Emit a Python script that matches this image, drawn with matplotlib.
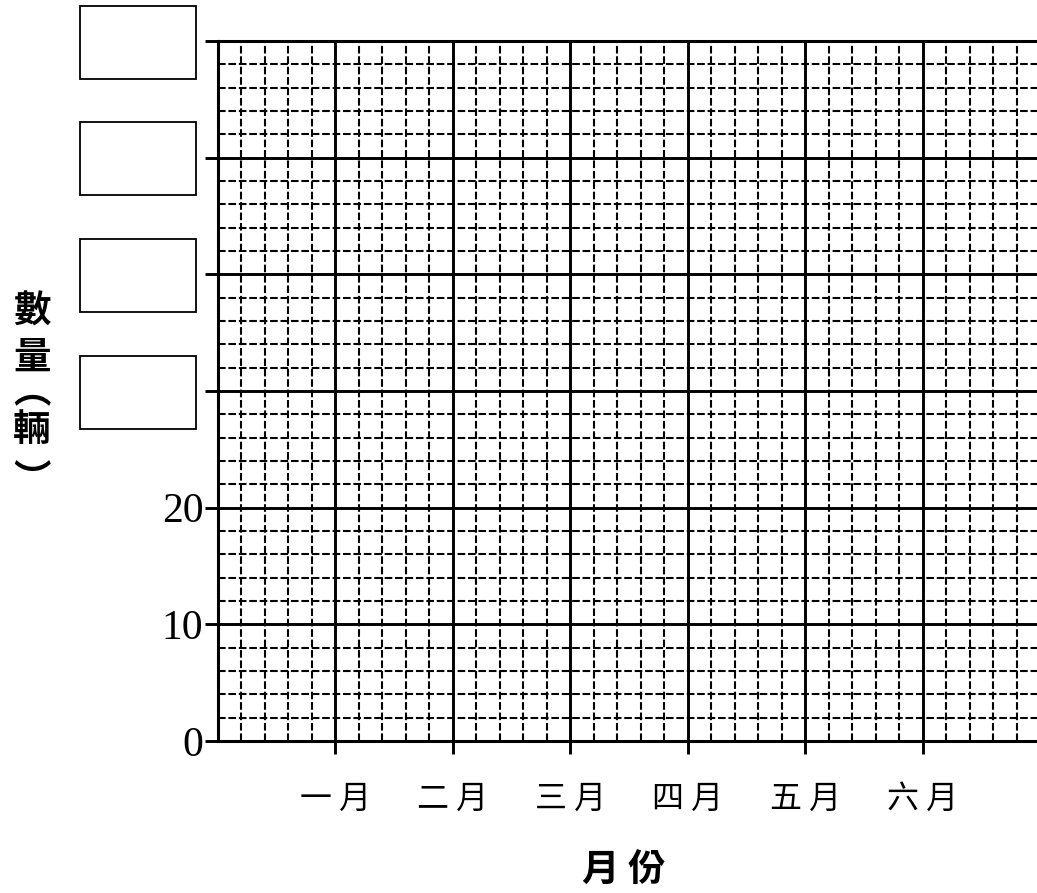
import matplotlib
matplotlib.use("Agg")
import matplotlib.pyplot as plt
from matplotlib.ticker import MultipleLocator, FixedLocator
from matplotlib.patches import Rectangle

months = ["一 月", "二 月", "三 月", "四 月", "五 月", "六 月"]
month_pos = [1, 2, 3, 4, 5, 6]
y_ticks = [0, 10, 20, 30, 40, 50, 60]
y_labels = ["0", "10", "20", "", "", "", ""]
blank_ticks = [30, 40, 50, 60]
x_title = "月 份"
y_title_chars = ["數", "量", "︵", "輛", "︶"]
y_title_va = ["center", "center", "baseline", "center", "baseline"]
y_title_py = [311, 357, 402, 430, 491]

plt.rcParams['lines.scale_dashes'] = False
cjk = ['Noto Sans CJK TC', 'DejaVu Sans']

W, H = 1037, 893
fig = plt.figure(figsize=(W / 100, H / 100), dpi=100)
ax = fig.add_axes([218 / W, 152 / H, 822 / W, 700 / H])
ax.set_xlim(0, 7)
ax.set_ylim(0, 60)

ax.xaxis.set_major_locator(FixedLocator(month_pos))
ax.xaxis.set_minor_locator(MultipleLocator(0.2))
ax.yaxis.set_major_locator(FixedLocator(y_ticks))
ax.yaxis.set_minor_locator(MultipleLocator(2))

ax.grid(which='minor', color='black', linewidth=1.5, linestyle=(0, (5.5, 2.0)), zorder=1)
ax.grid(which='major', color='black', linewidth=2.1, linestyle='-', zorder=2)
ax.set_axisbelow(True)

for s in ['right', 'bottom']:
    ax.spines[s].set_visible(False)
ax.spines['left'].set_linewidth(2.2)
ax.spines['top'].set_linewidth(2.2)
ax.axhline(0, color='black', lw=2.2, zorder=3, clip_on=False)

ax.tick_params(axis='both', which='minor', length=0)
ax.tick_params(axis='y', which='major', direction='out', length=9.5, width=2.1, pad=1,
               labelsize=30)
ax.tick_params(axis='x', which='major', direction='out', length=9, width=2.1, pad=21,
               labelsize=23)
ax.set_yticklabels(y_labels, fontfamily='Liberation Serif')
ax.set_xticklabels(months, fontfamily=cjk)

# blank boxes for missing y tick labels
fig.canvas.draw()
for v in blank_ticks:
    _, py = ax.transData.transform((0, v))
    bw, bh = 116, 73
    fig.patches.append(Rectangle((80 / W, (py - bh / 2 - 1) / H), bw / W, bh / H,
                                 transform=fig.transFigure, fill=False,
                                 edgecolor='black', linewidth=1.3))

fig.text(624 / W, 1 - 870 / H, x_title, ha='center', va='center', fontsize=27,
         fontweight='bold', family=cjk)
for ch, va, py in zip(y_title_chars, y_title_va, y_title_py):
    fig.text(32 / W, 1 - py / H, ch, ha='center', va=va, fontsize=27,
             fontweight='bold', family=cjk)

fig.savefig("out.png", dpi=100)
